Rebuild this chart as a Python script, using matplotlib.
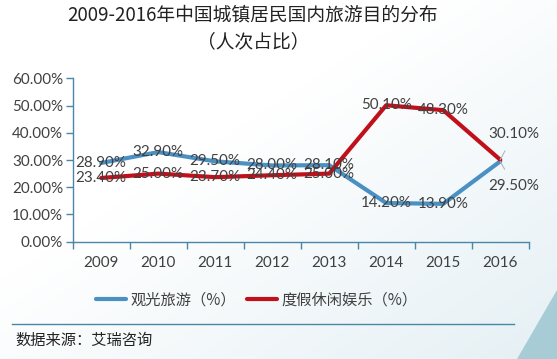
import matplotlib
matplotlib.use("Agg")
import matplotlib.pyplot as plt
import numpy as np
from matplotlib.patches import Polygon

plt.rcParams['font.family'] = ['Noto Sans CJK SC', 'DejaVu Sans']

years = ['2009', '2010', '2011', '2012', '2013', '2014', '2015', '2016']
sightseeing = [28.9, 32.9, 29.5, 28.0, 28.1, 14.2, 13.9, 29.5]
leisure = [23.4, 25.0, 23.7, 24.4, 25.0, 50.1, 48.3, 30.1]
series_names = ['观光旅游（%）', '度假休闲娱乐（%）']
yticks = [0, 10, 20, 30, 40, 50, 60]
title = '2009-2016年中国城镇居民国内旅游目的分布\n（人次占比）'
source = '数据来源：艾瑞咨询'

W, H = 557, 359
dpi = 100
fig = plt.figure(figsize=(W / dpi, H / dpi), dpi=dpi)
fig.patch.set_facecolor('white')

# background gradient
bg = fig.add_axes([0, 0, 1, 1], zorder=-10)
gx, gy = np.meshgrid(np.linspace(0, 1, 200), np.linspace(0, 1, 200))
t = np.clip((gx * 0.7 + gy * 0.7) - 0.55, 0, 1)
c0 = np.array([1.0, 1.0, 1.0])
c1 = np.array([0.88, 0.93, 0.95])
img = c0[None, None, :] * (1 - t[..., None]) + c1[None, None, :] * t[..., None]
bg.imshow(img, extent=[0, 1, 0, 1], aspect='auto', origin='upper')
bg.add_patch(Polygon([[517 / W, 0], [1, 0], [1, 1 - 290 / H]], closed=True,
                     facecolor='#a8ccd6', edgecolor='none'))
bg.set_xlim(0, 1); bg.set_ylim(0, 1)
bg.axis('off')

ax = fig.add_axes([72.7 / W, 1 - 241.7 / H, (528.7 - 72.7) / W, (241.7 - 78.3) / H])
ax.set_facecolor('none')
x = np.arange(len(years))
blue = '#4a90c2'
red = '#c0101a'
ax.plot(x, sightseeing, color=blue, lw=3.0, solid_capstyle='round', solid_joinstyle='round', label=series_names[0], zorder=3)
ax.plot(x, leisure, color=red, lw=3.0, solid_capstyle='round', solid_joinstyle='round', label=series_names[1], zorder=4)

fs = 10.9
ax.set_xlim(-0.5, len(years) - 0.5)
ax.set_ylim(0, 60)
ax.set_yticks(yticks)
ax.set_yticklabels([f'{v:.2f}%' for v in yticks], fontfamily='Lato', fontsize=fs, color='#404040')
ax.set_xticks(np.arange(-0.5, len(years)), minor=False)
ax.set_xticklabels([])
ax.set_xticks(x, minor=True)
ax.set_xticklabels(years, minor=True, fontfamily='Lato', fontsize=fs, color='#404040')
ax.tick_params(axis='x', which='major', length=5, color='#4a86a6', width=1, direction='out')
ax.tick_params(axis='x', which='minor', length=0, pad=10)
ax.tick_params(axis='y', length=5, color='#4a86a6', width=1, direction='out', pad=2)
for s in ['top', 'right']:
    ax.spines[s].set_visible(False)
for s in ['left', 'bottom']:
    ax.spines[s].set_color('#4a86a6')
    ax.spines[s].set_linewidth(1)

lab_kw = dict(fontfamily='Lato', fontsize=fs, color='#404040', ha='center', va='center', zorder=6)
n = len(years)
for i in range(n - 1):
    ax.annotate(f'{sightseeing[i]:.2f}%', (x[i], sightseeing[i]), **lab_kw)
    ax.annotate(f'{leisure[i]:.2f}%', (x[i], leisure[i]), **lab_kw)
# last point labels with leader lines
ax.annotate(f'{leisure[-1]:.2f}%', (x[-1], leisure[-1]), xytext=(14, 26), textcoords='offset pixels',
            arrowprops=dict(arrowstyle='-', color='#b0b8bc', lw=0.8, shrinkA=6, shrinkB=0), **lab_kw)
ax.annotate(f'{sightseeing[-1]:.2f}%', (x[-1], sightseeing[-1]), xytext=(14, -25), textcoords='offset pixels',
            arrowprops=dict(arrowstyle='-', color='#b0b8bc', lw=0.8, shrinkA=6, shrinkB=0), **lab_kw)

fig.text(253 / W, 1 - 28 / H, title, ha='center', va='center', fontsize=13.5, color='#222222', linespacing=1.35)

leg = fig.legend(loc='center', bbox_to_anchor=(257 / W, 1 - 300 / H), ncol=2, frameon=False,
                 fontsize=11, handlelength=1.96, handletextpad=0.3, columnspacing=0.72)
for txt in leg.get_texts():
    txt.set_color('#404040')

fig.add_artist(plt.Line2D([12 / W, 514 / W], [1 - 324 / H, 1 - 324 / H], color='#4a86a6', lw=1))
fig.text(15 / W, 1 - 340 / H, source, ha='left', va='center', fontsize=11, color='#222222')

fig.savefig('out.png', dpi=dpi)
